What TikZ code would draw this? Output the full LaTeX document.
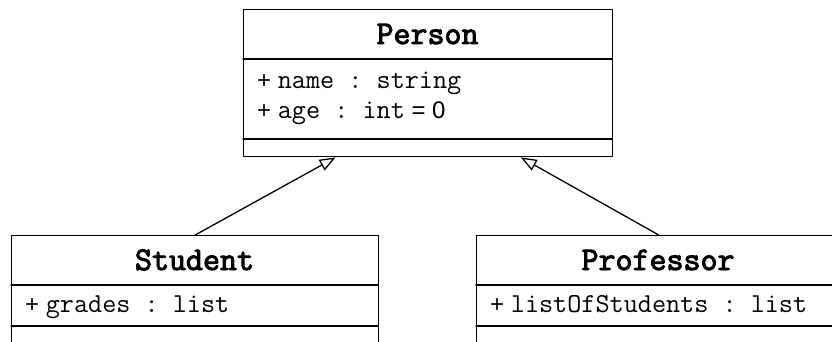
\documentclass[tikz,border=0pt]{standalone}
\usepackage{fontspec}
\newfontfamily\umlsans{Liberation Sans}
\newfontfamily\umltitle[FakeBold=3]{Latin Modern Mono}
\usetikzlibrary{arrows.meta,calc}
\frenchspacing

\tikzset{
  classbox/.style={draw,line width=1.4pt,inner sep=0pt,anchor=north west},
  compart/.style={line width=1.4pt},
  classname/.style={font=\fontsize{33}{33}\selectfont\umltitle,anchor=base,inner sep=0pt},
  attr/.style={font=\fontsize{27.4}{27.4}\selectfont\frenchspacing,anchor=base west,inner sep=0pt},
  inherit/.style={line width=1.3pt,-{Triangle[open,length=16pt,width=12pt]}},
}
\newcommand{\umlplus}{{\umlsans\fontsize{24}{24}\selectfont+ }}

\begin{document}
\begin{tikzpicture}[x=1pt,y=-1pt,line cap=round,line join=round]
  \useasboundingbox (0,0) rectangle (832,342);
  \clip (0,0) rectangle (832,342);

  % Person
  \node[classbox,minimum width=369pt,minimum height=147pt] (person) at (243,9) {};
  \draw[compart] (243,59) -- (612,59);
  \draw[compart] (243,139) -- (612,139);
  \node[classname] (personname) at (427.5,44) {Person};
  \node[attr] (personattr) at (257,89) {\umlplus\texttt{name : string}};
  \node[attr] (personage) at (257,119) {\umlplus\texttt{age : int}{\umlsans\fontsize{24}{24}\selectfont\ = 0}};

  % Student
  \node[classbox,minimum width=367pt,minimum height=150pt] (student) at (11,235) {};
  \draw[compart] (11,285) -- (378,285);
  \draw[compart] (11,326) -- (378,326);
  \node[classname] (studentname) at (194.5,270) {Student};
  \node[attr] (studentgrades) at (25,312) {\umlplus\texttt{grades : list}};

  % Professor
  \node[classbox,minimum width=364pt,minimum height=150pt] (professor) at (476,235) {};
  \draw[compart] (476,285) -- (840,285);
  \draw[compart] (476,326) -- (840,326);
  \node[classname] (professorname) at (658,270) {Professor};
  \node[attr] (professorlist) at (490,312) {\umlplus\texttt{listOfStudents : list}};

  % generalisation
  \coordinate (personleft) at ($(person.south west)!0.25!(person.south east)$);
  \coordinate (personright) at ($(person.south west)!0.75!(person.south east)$);
  \draw[inherit] (student.north) -- (personleft);
  \draw[inherit] (professor.north) -- (personright);
\end{tikzpicture}
\end{document}
